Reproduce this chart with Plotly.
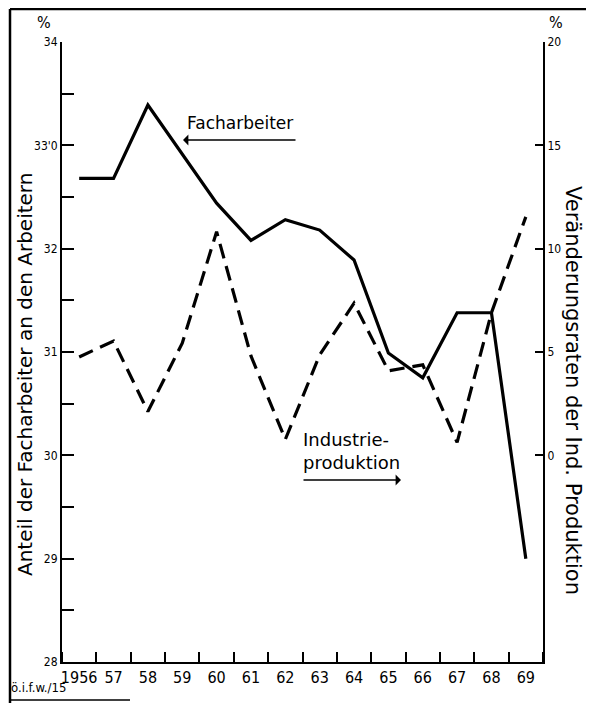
import plotly.graph_objects as go

years = ["1956", "57", "58", "59", "60", "61", "62", "63", "64", "65", "66", "67", "68", "69"]
facharbeiter = [32.68, 32.68, 33.39, 32.92, 32.44, 32.08, 32.28, 32.18, 31.89, 30.99, 30.75, 31.38, 31.38, 29.0]
industrie = [4.76, 5.53, 2.12, 5.43, 10.82, 4.81, 0.77, 4.86, 7.36, 4.09, 4.38, 0.63, 6.9, 11.54]

left_ticks = [28, 29, 30, 31, 32, 33, 34]
left_ticktext = ["28", "29", "30", "31", "32", "33'0", "34"]
right_ticks = [0, 5, 10, 15, 20]

FONT = "DejaVu Sans Condensed, DejaVu Sans, sans-serif"
NARROW = "Liberation Sans Narrow, DejaVu Sans Condensed, sans-serif"
WIDE = "DejaVu Sans, sans-serif"
xs = list(range(len(years)))

fig = go.Figure()
fig.add_trace(go.Scatter(x=xs, y=facharbeiter, mode="lines", name="Facharbeiter",
                         line=dict(color="black", width=3.2), yaxis="y"))
fig.add_trace(go.Scatter(x=xs, y=industrie, mode="lines", name="Industrieproduktion",
                         line=dict(color="black", width=3.2, dash="15px,8px"), yaxis="y2"))

# page body margin offset is 8px; figure sized so the page matches 594x703
OFF = 8
W, H = 586, 695
L, R, T, B = 54, 51, 34, 41
pw = W - L - R
ph = H - T - B

def px(x):
    return (x - OFF - L) / pw

def py(y):
    return (H - B - (y - OFF)) / ph

fig.update_layout(
    width=W, height=H,
    margin=dict(l=L, r=R, t=T, b=B),
    paper_bgcolor="white", plot_bgcolor="white",
    showlegend=False,
    font=dict(family=FONT, color="black", size=13),
    xaxis=dict(range=[-0.5, 13.5], tickvals=xs, ticktext=years, ticks="",
               showgrid=False, zeroline=False, showline=True, linecolor="black", linewidth=2,
               tickfont=dict(size=16, family=NARROW),
               minor=dict(tick0=0.5, dtick=1, ticks="inside", ticklen=10, tickwidth=2, tickcolor="black")),
    yaxis=dict(range=[28, 34], tickvals=left_ticks, ticktext=left_ticktext, ticks="inside",
               ticklen=12, tickwidth=2, tickcolor="black",
               showgrid=False, zeroline=False, showline=True, linecolor="black", linewidth=2,
               tickfont=dict(size=12, family=FONT),
               minor=dict(tick0=28.5, dtick=1, ticks="inside", ticklen=12, tickwidth=2, tickcolor="black")),
    yaxis2=dict(range=[-10, 20], tickvals=right_ticks, ticks="inside", ticklen=8, tickwidth=2,
                tickcolor="black", overlaying="y", side="right",
                showgrid=False, zeroline=False, showline=True, linecolor="black", linewidth=2,
                tickfont=dict(size=12, family=FONT)),
)

ann = []
# Axis titles
ann.append(dict(text="Anteil der Facharbeiter an den Arbeitern", xref="paper", yref="paper",
                x=px(25), y=py(375), textangle=-90, showarrow=False,
                font=dict(size=20, family=WIDE), xanchor="center", yanchor="middle"))
ann.append(dict(text="Veränderungsraten der Ind. Produktion", xref="paper", yref="paper",
                x=px(573), y=py(390), textangle=90, showarrow=False,
                font=dict(size=21, family=WIDE), xanchor="center", yanchor="middle"))
# Percent signs
ann.append(dict(text="%", xref="paper", yref="paper", x=px(44), y=py(23), showarrow=False,
                font=dict(size=16, family=FONT), xanchor="center", yanchor="middle"))
ann.append(dict(text="%", xref="paper", yref="paper", x=px(556), y=py(23), showarrow=False,
                font=dict(size=16, family=FONT), xanchor="center", yanchor="middle"))
# Labels with arrows
ann.append(dict(text="Facharbeiter", xref="paper", yref="paper", x=px(240), y=py(123),
                showarrow=False, font=dict(size=17, family=WIDE), xanchor="center", yanchor="middle"))
ann.append(dict(text="", xref="paper", yref="paper", x=px(183), y=py(140),
                ax=114, ay=0, showarrow=True, arrowhead=1, arrowsize=1.2, arrowwidth=1.5,
                arrowcolor="black"))
ann.append(dict(text="Industrie-<br>produktion", xref="paper", yref="paper", x=px(301), y=py(451),
                showarrow=False, font=dict(size=18, family=WIDE), xanchor="left", yanchor="middle",
                align="left"))
ann.append(dict(text="", xref="paper", yref="paper", x=px(401), y=py(480),
                ax=-99, ay=0, showarrow=True, arrowhead=1, arrowsize=1.2, arrowwidth=1.5,
                arrowcolor="black"))
# Source mark
ann.append(dict(text="ö.i.f.w./15", xref="paper", yref="paper", x=px(9), y=py(687),
                showarrow=False, font=dict(size=13, family=FONT), xanchor="left", yanchor="middle"))
fig.update_layout(annotations=ann)

shapes = []
# Frame lines
shapes.append(dict(type="line", xref="paper", yref="paper", x0=px(10), x1=px(10), y0=py(9), y1=py(703),
                   line=dict(color="black", width=2.5)))
shapes.append(dict(type="line", xref="paper", yref="paper", x0=px(10), x1=px(594), y0=py(9), y1=py(9),
                   line=dict(color="black", width=2.5)))
shapes.append(dict(type="line", xref="paper", yref="paper", x0=px(10), x1=px(130), y0=py(700), y1=py(700),
                   line=dict(color="black", width=1.5)))
fig.update_layout(shapes=shapes)

fig.write_html("out.html")
